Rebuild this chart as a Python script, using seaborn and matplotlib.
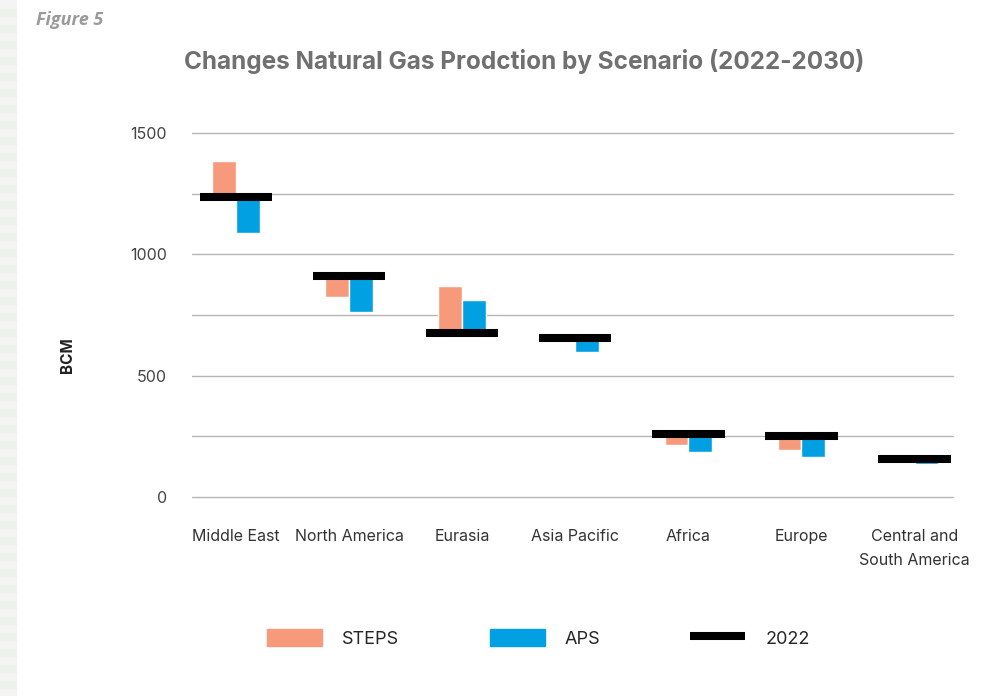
import numpy as np
import pandas as pd
import matplotlib
matplotlib.use("Agg")
import matplotlib.pyplot as plt
from matplotlib.patches import Patch, Rectangle
from matplotlib.lines import Line2D
import seaborn as sns

# values (BCM)
regions = ["Middle East", "North America", "Eurasia", "Asia Pacific",
           "Africa", "Europe", "Central and\nSouth America"]
base_2022 = [1237, 911, 676, 656, 260, 252, 157]
steps_2030 = [1386, 826, 869, 648, 216, 195, 150]
aps_2030 = [1089, 763, 812, 599, 187, 166, 137]

scenarios = ["STEPS", "APS"]
colors = {"STEPS": "#F79A7B", "APS": "#00A0E3"}

sns.set_theme(style="white")
plt.rcParams["font.family"] = ["Inter", "DejaVu Sans"]

# floating bars: start at 2022 level, height = change to 2030
rows = []
for r, b, s, a in zip(regions, base_2022, steps_2030, aps_2030):
    rows.append({"region": r, "scenario": "STEPS", "delta": s - b})
    rows.append({"region": r, "scenario": "APS", "delta": a - b})
df = pd.DataFrame(rows)

fig = plt.figure(figsize=(9.99, 6.96), dpi=100)
ax = fig.add_axes([0.192, 0.2859, 0.762, 0.5230])

# pale striped strip on the left edge
for i, y0 in enumerate(np.arange(0, 1, 0.0115)):
    c = "#f4f4f4" if i % 2 == 0 else "#edf1ea"
    fig.patches.append(Rectangle((0, y0), 0.016, 0.0115, transform=fig.transFigure,
                                 color=c, zorder=0))

sns.barplot(data=df, x="region", y="delta", hue="scenario", order=regions,
            hue_order=scenarios, palette=colors, width=0.42, dodge=True,
            saturation=1, errorbar=None, legend=False,
            bottom=np.array(base_2022), ax=ax, zorder=2)

xpos = np.arange(len(regions))
ax.hlines(base_2022, xpos - 0.32, xpos + 0.32, color="black", lw=5.8, zorder=3)

ax.set_xlim(-0.39, 6.34)
ax.set_ylim(0, 1500)
ax.set_yticks([0, 500, 1000, 1500])
ax.set_yticks(np.arange(0, 1501, 250), minor=True)
ax.grid(axis="y", which="both", color="#b5b5b5", lw=1.0, zorder=0)
ax.set_axisbelow(True)
for gl in ax.get_ygridlines():
    gl.set_clip_on(False)
for t in ax.yaxis.get_minor_ticks():
    t.gridline.set_clip_on(False)
for sp in ax.spines.values():
    sp.set_visible(False)
ax.tick_params(axis="both", which="both", length=0)
ax.tick_params(axis="y", pad=18, labelsize=11.5, labelcolor="#444444")
ax.tick_params(axis="x", pad=23, labelsize=11.5, labelcolor="#333333")
for lbl in ax.get_xticklabels():
    lbl.set_linespacing(1.75)
ax.set_xlabel("")
ax.set_ylabel("BCM", fontsize=11, fontweight="bold", color="#222222")
ax.yaxis.set_label_coords(-0.154, 0.39)

fig.text(0.525, 0.911, "Changes Natural Gas Prodction by Scenario (2022-2030)",
         ha="center", va="center", fontsize=17.5, fontweight="bold", color="#707070")
fig.text(0.036, 0.971, "Figure 5", ha="left", va="center", fontsize=13,
         fontweight="bold", style="italic", color="#9a9a9a",
         family=["Open Sans", "DejaVu Sans"])

handles = [Patch(color=colors["STEPS"]), Patch(color=colors["APS"]),
           Line2D([0], [0], color="black", lw=5.8, solid_capstyle="butt")]
fig.legend(handles, ["STEPS", "APS", "2022"], loc="center",
           bbox_to_anchor=(0.539, 0.083), ncol=3, frameon=False, fontsize=13,
           handlelength=3.05, handleheight=1.1, handletextpad=1.1,
           columnspacing=5.0)

fig.savefig("out.png", dpi=100)
